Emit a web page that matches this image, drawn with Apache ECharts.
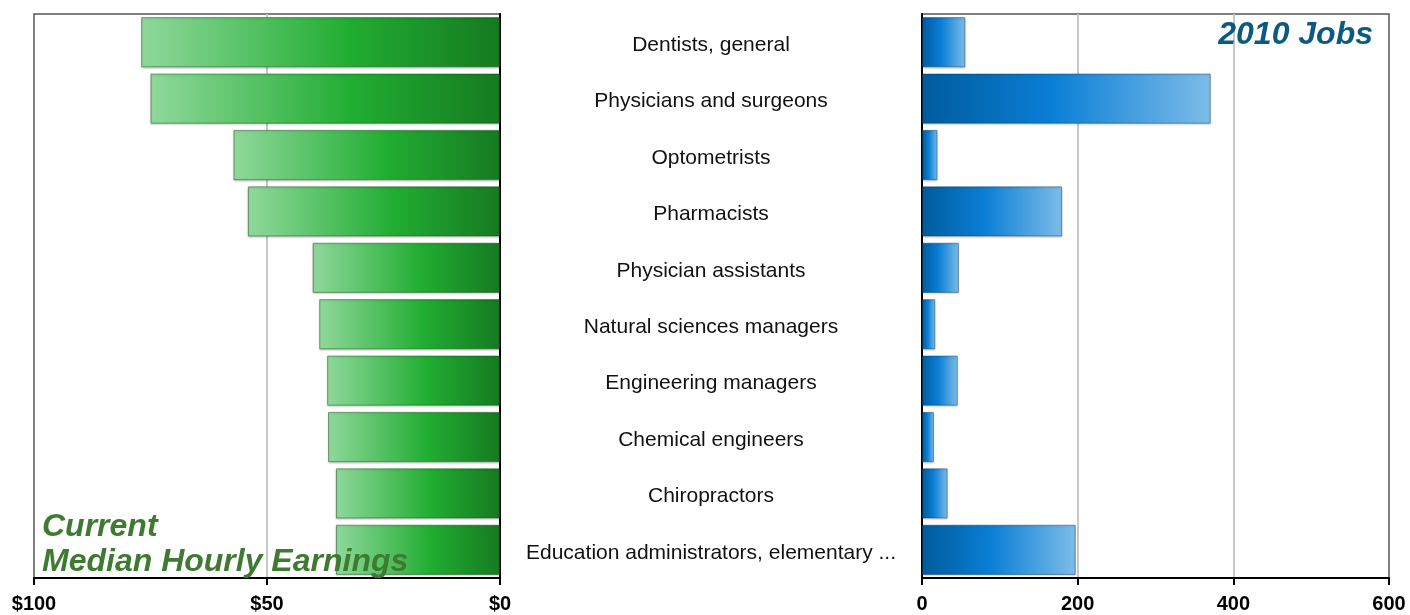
<!DOCTYPE html>
<html>
<head>
<meta charset="utf-8">
<script src="https://cdn.jsdelivr.net/npm/echarts@6/dist/echarts.min.js"></script>
<style>
  html, body { margin: 0; padding: 0; background: #fff; }
  #chart { width: 1410px; height: 615px; }
</style>
</head>
<body>
<div id="chart"></div>
<script>
var occupations = [
    'Dentists, general',
    'Physicians and surgeons',
    'Optometrists',
    'Pharmacists',
    'Physician assistants',
    'Natural sciences managers',
    'Engineering managers',
    'Chemical engineers',
    'Chiropractors',
    'Education administrators, elementary ...'
];
// median hourly earnings, dollars
var hourlyEarnings = [77, 75, 57.2, 54.1, 40.2, 38.8, 37.1, 36.9, 35.2, 35.2];
// 2010 jobs, thousands
var jobs2010 = [55.7, 371, 20, 180, 47.5, 17, 46, 15.4, 33, 197.5];
var earningsTicks = [0, 50, 100];
var jobsTicks = [0, 200, 400, 600];

var myChart = echarts.init(document.getElementById('chart'));

var greenFill = {
    type: 'linear', x: 0, y: 0, x2: 1, y2: 0,
    colorStops: [
        {offset: 0, color: '#8fd89b'},
        {offset: 0.58, color: '#21ad32'},
        {offset: 1, color: '#167a21'}
    ]
};
var blueFill = {
    type: 'linear', x: 0, y: 0, x2: 1, y2: 0,
    colorStops: [
        {offset: 0, color: '#005b9c'},
        {offset: 0.45, color: '#0a7fd6'},
        {offset: 1, color: '#7dbce8'}
    ]
};

var tickLabel = {
    fontFamily: 'Liberation Sans', fontWeight: 'bold', fontSize: 20, color: '#000', margin: 16
};

var option = {
    animation: false,
    backgroundColor: '#fff',
    title: [
        {
            text: 'Current\nMedian Hourly Earnings',
            left: 42, top: 510, padding: 0,
            textStyle: {
                fontFamily: 'Liberation Sans', fontSize: 32, fontStyle: 'italic',
                fontWeight: 'bold', color: '#3e7a30', lineHeight: 35
            }
        },
        {
            text: '2010 Jobs',
            right: 37, top: 19, padding: 0,
            textStyle: {
                fontFamily: 'Liberation Sans', fontSize: 32, fontStyle: 'italic',
                fontWeight: 'bold', color: '#0d5a80'
            }
        }
    ],
    grid: [
        {left: 34, right: 910, top: 14, bottom: 37, show: true, borderColor: '#555', borderWidth: 1.5},
        {left: 922, right: 21, top: 14, bottom: 37, show: true, borderColor: '#555', borderWidth: 1.5}
    ],
    xAxis: [
        {
            gridIndex: 0, type: 'value', inverse: true,
            min: earningsTicks[0], max: earningsTicks[earningsTicks.length - 1], interval: 50,
            axisLine: {show: true, lineStyle: {color: '#000', width: 2}},
            axisTick: {show: true, length: 7, lineStyle: {color: '#000', width: 2}},
            splitLine: {show: true, showMinLine: false, showMaxLine: false, lineStyle: {color: '#c8c8c8', width: 2}},
            axisLabel: Object.assign({formatter: function (v) { return '$' + v; }}, tickLabel)
        },
        {
            gridIndex: 1, type: 'value',
            min: jobsTicks[0], max: jobsTicks[jobsTicks.length - 1], interval: 200,
            axisLine: {show: true, lineStyle: {color: '#000', width: 2}},
            axisTick: {show: true, length: 7, lineStyle: {color: '#000', width: 2}},
            splitLine: {show: true, showMinLine: false, showMaxLine: false, lineStyle: {color: '#c8c8c8', width: 2}},
            axisLabel: tickLabel
        }
    ],
    yAxis: [
        {
            gridIndex: 0, type: 'category', position: 'right', inverse: true,
            data: occupations,
            axisLine: {show: true, lineStyle: {color: '#000', width: 2}},
            axisTick: {show: false},
            axisLabel: {
                margin: 211, align: 'center',
                formatter: function (v) { return '{n|' + v + '}'; },
                rich: {
                    n: {
                        fontFamily: 'Liberation Sans', fontSize: 21, color: '#111',
                        padding: [6, 0, 0, 0]
                    }
                }
            }
        },
        {
            gridIndex: 1, type: 'category', position: 'left', inverse: true,
            data: occupations,
            axisLine: {show: true, lineStyle: {color: '#000', width: 2}},
            axisTick: {show: false},
            axisLabel: {show: false}
        }
    ],
    series: [
        {
            type: 'bar', xAxisIndex: 0, yAxisIndex: 0,
            data: hourlyEarnings,
            barCategoryGap: '11%',
            itemStyle: {
                color: greenFill, borderColor: 'rgba(20,80,20,0.45)', borderWidth: 1,
                shadowBlur: 2, shadowColor: 'rgba(0,0,0,0.25)', shadowOffsetY: 1
            }
        },
        {
            type: 'bar', xAxisIndex: 1, yAxisIndex: 1,
            data: jobs2010,
            barCategoryGap: '11%',
            itemStyle: {
                color: blueFill, borderColor: 'rgba(10,50,90,0.4)', borderWidth: 1,
                shadowBlur: 2, shadowColor: 'rgba(0,0,0,0.25)', shadowOffsetY: 1
            }
        }
    ]
};
myChart.setOption(option);
</script>
</body>
</html>
